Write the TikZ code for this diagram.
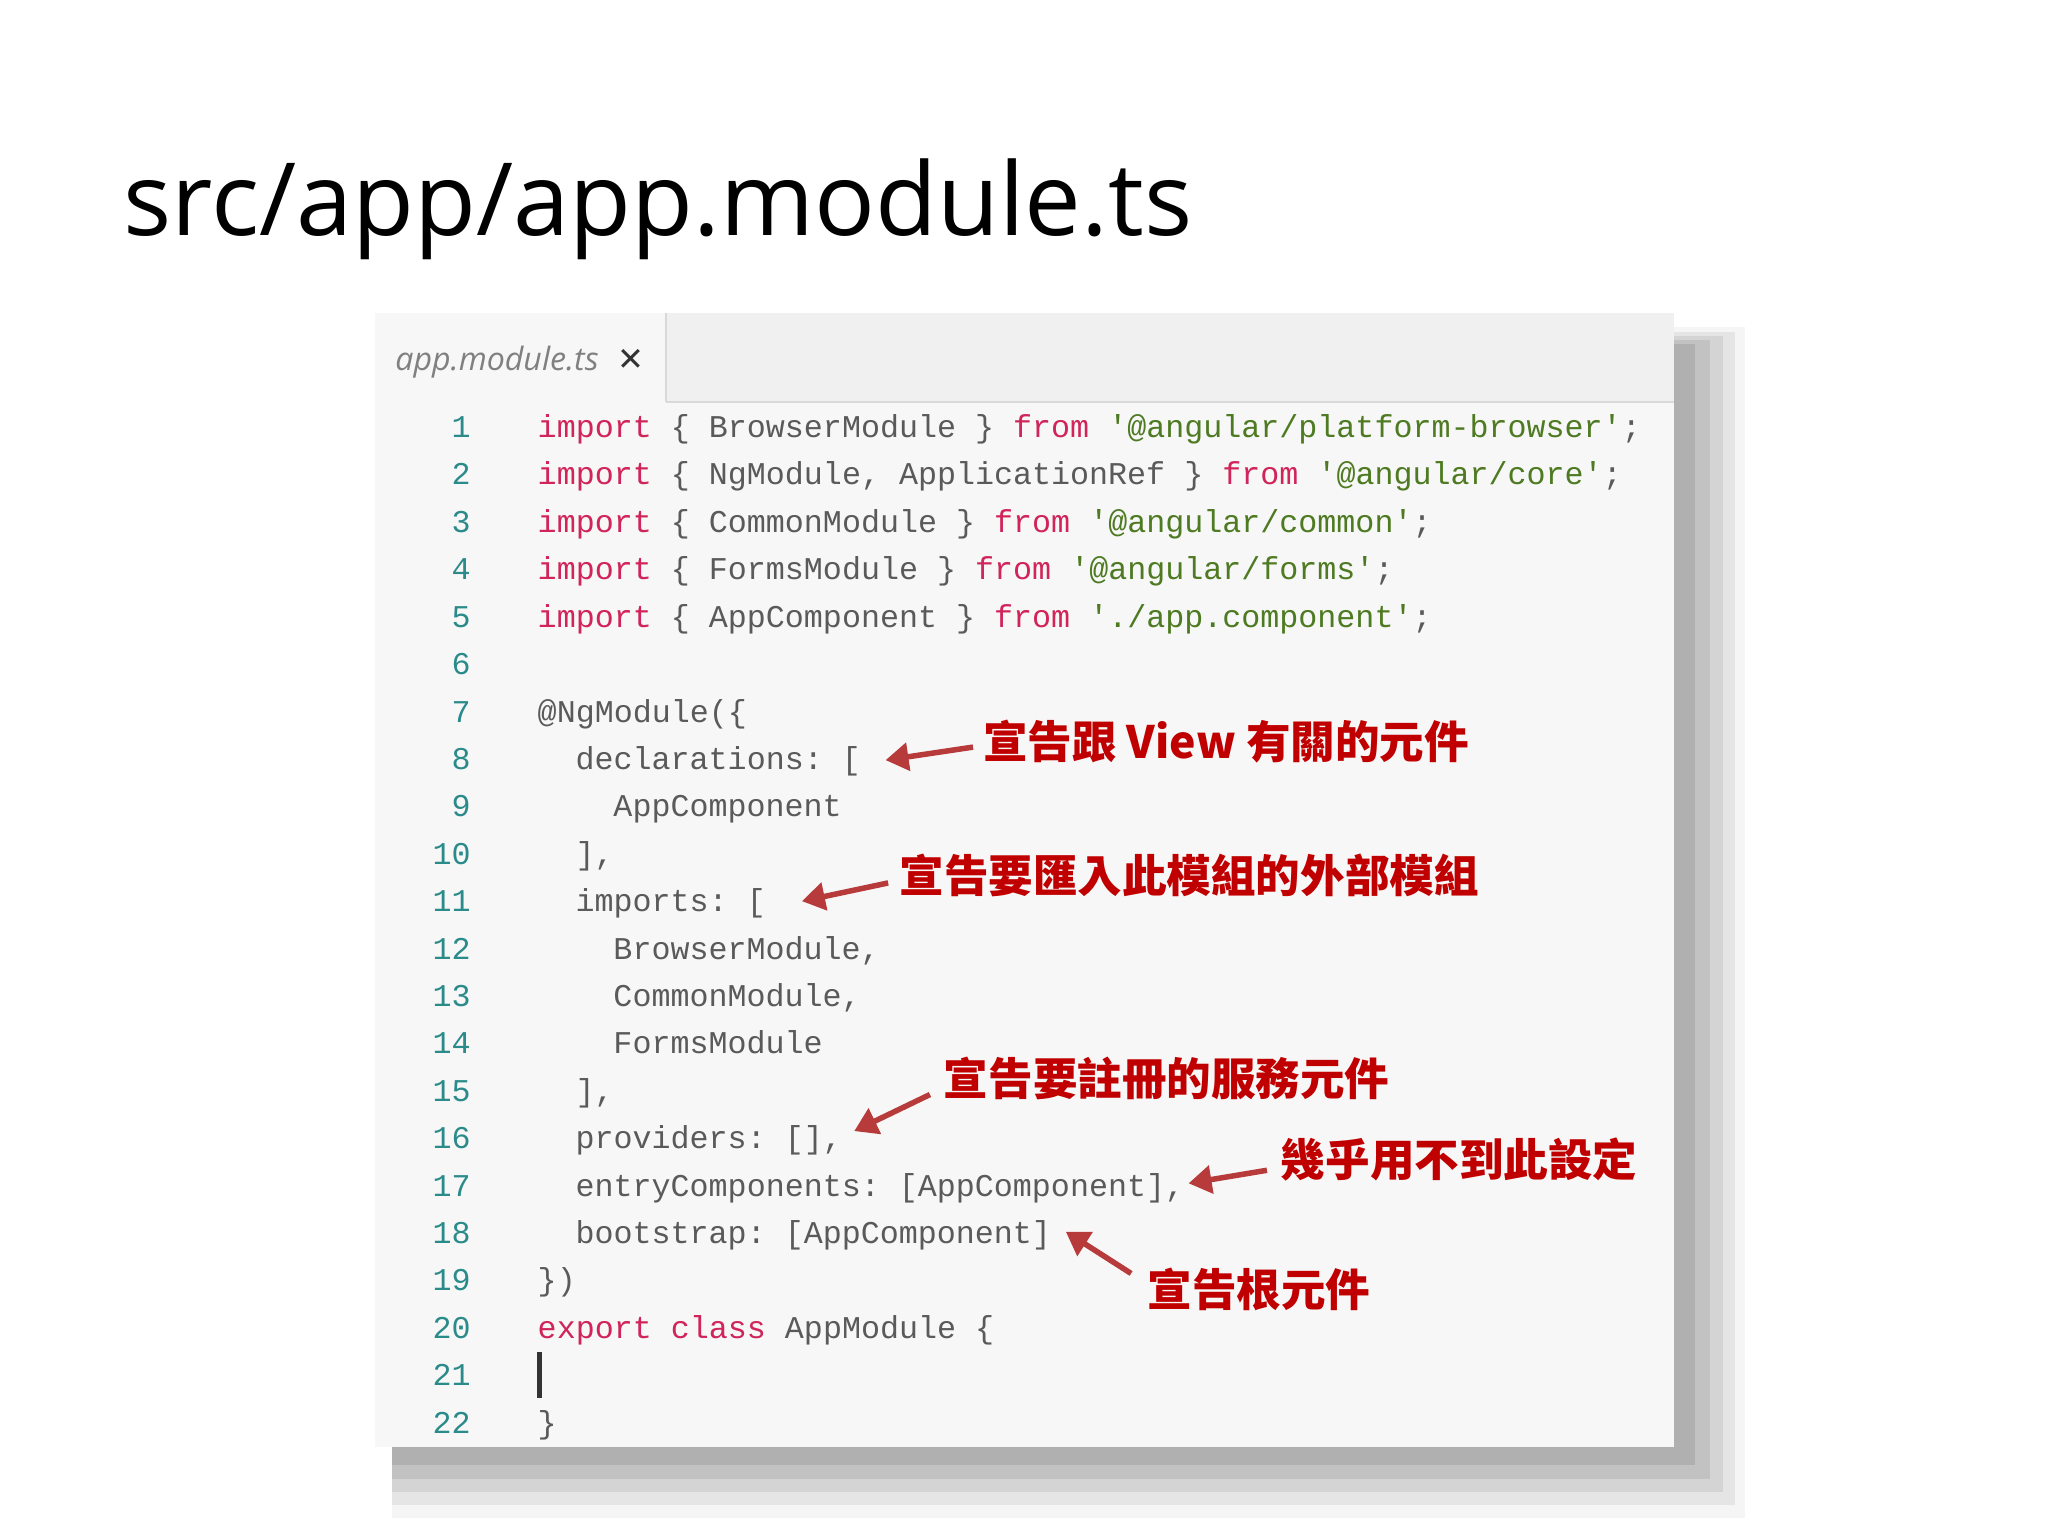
\documentclass[tikz,border=0pt]{standalone}
\usepackage{fontspec}
\setmainfont{Open Sans}
\setmonofont{Liberation Mono}
\newfontfamily\cjk{Noto Sans CJK TC}
\newfontfamily\djv{DejaVu Sans}
\usetikzlibrary{arrows.meta}
\definecolor{kwc}{HTML}{D0245A}
\definecolor{stc}{HTML}{4E7A22}
\definecolor{idc}{HTML}{5A5A5A}
\definecolor{lnc}{HTML}{2B8A8A}
\definecolor{annc}{HTML}{C00000}
\definecolor{arrc}{HTML}{B83B3B}
\newcommand{\kw}[1]{\textcolor{kwc}{#1}}
\newcommand{\st}[1]{\textcolor{stc}{#1}}
\tikzset{
  code/.style={anchor=base west,inner sep=0,font=\ttfamily\fontsize{6.9pt}{7pt}\selectfont,text=idc},
  lnum/.style={anchor=base east,inner sep=0,font=\ttfamily\fontsize{6.9pt}{7pt}\selectfont,text=lnc},
  ann/.style={anchor=west,inner sep=0,font=\cjk\bfseries\fontsize{9.7pt}{10pt}\selectfont,text=annc},
  arr/.style={draw=arrc,line width=1.2pt,-{Triangle[length=5pt,width=6pt]}}
}
\begin{document}
\begin{tikzpicture}[x=0.01cm,y=-0.01cm]
\useasboundingbox (0,0) rectangle (1568,1176);
\fill[white] (0,0) rectangle (1568,1176);
\node[anchor=base west,inner sep=0,font=\fontsize{22pt}{24pt}\selectfont] (title) at (94,180) {src/app/app.module.ts};
% shadow
\fill[gray!8] (300,250) rectangle (1336,1162);
\fill[gray!20] (300,254) rectangle (1328,1152);
\fill[gray!34] (300,257) rectangle (1319,1142);
\fill[gray!48] (300,260) rectangle (1309,1132);
\fill[gray!62] (300,263) rectangle (1298,1122);
% panel
\fill[white!97!black] (287,240) rectangle (1282,1108);
\fill[white!94!black] (510,240) rectangle (1282,308);
\draw[gray!30] (510,308) -- (1282,308);
\draw[gray!30] (510,240) -- (510,308);
\node[anchor=base west,inner sep=0,font=\itshape\fontsize{7pt}{8pt}\selectfont,text=gray] (tab) at (302,284) {app.module.ts};
\node[anchor=base west,inner sep=0,font=\djv\bfseries\fontsize{7pt}{8pt}\selectfont,text=black!80] (close) at (472,284) {✕};
% line numbers
\foreach \i in {1,...,22}{
  \node[lnum] (n\i) at (361,{327+8+(\i-1)*36.3}) {\i};
}
\def\Y#1{{327+8+(#1-1)*36.3}}
\node[code] (c1) at (411,\Y{1}) {\kw{import} \{ BrowserModule \} \kw{from} \st{'@angular/platform-browser'};};
\node[code] (c2) at (411,\Y{2}) {\kw{import} \{ NgModule, ApplicationRef \} \kw{from} \st{'@angular/core'};};
\node[code] (c3) at (411,\Y{3}) {\kw{import} \{ CommonModule \} \kw{from} \st{'@angular/common'};};
\node[code] (c4) at (411,\Y{4}) {\kw{import} \{ FormsModule \} \kw{from} \st{'@angular/forms'};};
\node[code] (c5) at (411,\Y{5}) {\kw{import} \{ AppComponent \} \kw{from} \st{'./app.component'};};
\node[code] (c7) at (411,\Y{7}) {@NgModule(\{};
\node[code] (c8) at (440,\Y{8}) {declarations: [};
\node[code] (c9) at (469,\Y{9}) {AppComponent};
\node[code] (c10) at (440,\Y{10}) {],};
\node[code] (c11) at (440,\Y{11}) {imports: [};
\node[code] (c12) at (469,\Y{12}) {BrowserModule,};
\node[code] (c13) at (469,\Y{13}) {CommonModule,};
\node[code] (c14) at (469,\Y{14}) {FormsModule};
\node[code] (c15) at (440,\Y{15}) {],};
\node[code] (c16) at (440,\Y{16}) {providers: [],};
\node[code] (c17) at (440,\Y{17}) {entryComponents: [AppComponent],};
\node[code] (c18) at (440,\Y{18}) {bootstrap: [AppComponent]};
\node[code] (c19) at (411,\Y{19}) {\})};
\node[code] (c20) at (411,\Y{20}) {\kw{export} \kw{class} AppModule \{};
\node[code] (c22) at (411,\Y{22}) {\}};
\draw[black!80,line width=1.2pt] (413,1035) -- (413,1070);
% annotations
\node[ann] (a1) at (752,568) {宣告跟 View 有關的元件};
\node[ann] (a2) at (688,670) {宣告要匯入此模組的外部模組};
\node[ann] (a3) at (722,826) {宣告要註冊的服務元件};
\node[ann] (a4) at (980,888) {幾乎用不到此設定};
\node[ann] (a5) at (878,987) {宣告根元件};
\coordinate (t1) at (678,582);
\coordinate (t2) at (614,690);
\coordinate (t3) at (654,866);
\coordinate (t4) at (910,906);
\coordinate (t5) at (816,943);
\draw[arr] ([shift={(-7,4)}]a1.west) -- (t1);
\draw[arr] ([shift={(-8,6)}]a2.west) -- (t2);
\draw[arr] ([shift={(-10,12)}]a3.west) -- (t3);
\draw[arr] ([shift={(-10,8)}]a4.west) -- (t4);
\draw[arr] ([shift={(-12,-12)}]a5.west) -- (t5);
\end{tikzpicture}
\end{document}
